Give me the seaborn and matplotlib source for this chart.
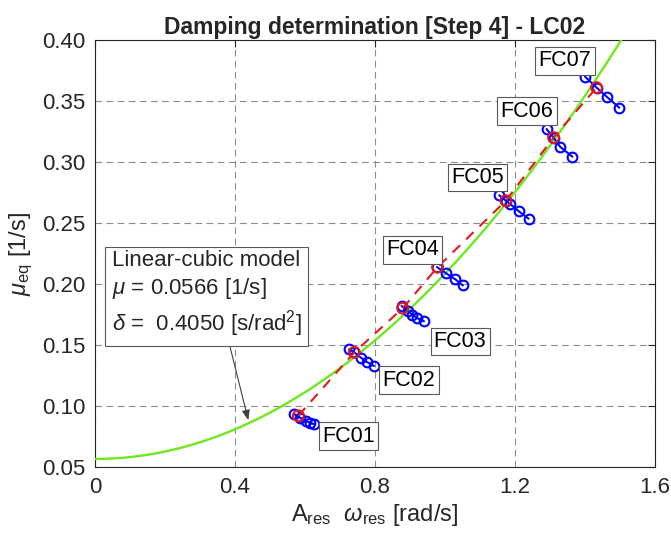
import numpy as np
import pandas as pd
import matplotlib
matplotlib.use("Agg")
import matplotlib.pyplot as plt
import seaborn as sns

fc_names = ["FC01", "FC02", "FC03", "FC04", "FC05", "FC06", "FC07"]
fc_x = [
    [0.569, 0.585, 0.602, 0.614, 0.627],
    [0.726, 0.741, 0.760, 0.776, 0.797],
    [0.876, 0.893, 0.906, 0.921, 0.940],
    [0.977, 1.003, 1.029, 1.051],
    [1.155, 1.174, 1.186, 1.210, 1.239],
    [1.290, 1.310, 1.329, 1.364],
    [1.400, 1.433, 1.462, 1.498],
]
fc_y = [
    [0.0934, 0.0905, 0.0880, 0.0863, 0.0850],
    [0.1465, 0.1440, 0.1396, 0.1363, 0.1328],
    [0.1820, 0.1780, 0.1750, 0.1720, 0.1695],
    [0.2139, 0.2088, 0.2039, 0.1988],
    [0.2727, 0.2683, 0.2656, 0.2598, 0.2535],
    [0.3270, 0.3200, 0.3125, 0.3043],
    [0.3700, 0.3610, 0.3535, 0.3445],
]

# resonance points (red)
res_x = [0.581, 0.741, 0.879, 0.979, 1.174, 1.310, 1.433]
res_y = [0.0920, 0.1440, 0.1801, 0.2139, 0.2683, 0.3200, 0.3610]

# label positions (centre of each box)
label_x = [0.724, 0.897, 1.043, 0.907, 1.093, 1.234, 1.343]
label_y = [0.0754, 0.1213, 0.1529, 0.2279, 0.2873, 0.3418, 0.3828]

# fitted linear-cubic model
mu = 0.0566
delta = 0.4050
model_x = np.linspace(0, 1.5035, 200)
model_y = mu + 3.0 / 8.0 * delta * model_x ** 2

sns.set_theme(style="white")
plt.rcParams["font.family"] = ["Liberation Sans", "DejaVu Sans"]
plt.rcParams["mathtext.fontset"] = "custom"
plt.rcParams["mathtext.rm"] = "Liberation Sans"
plt.rcParams["mathtext.it"] = "Liberation Sans:italic"
plt.rcParams["mathtext.bf"] = "Liberation Sans:bold"

dark = "#262626"

fig = plt.figure(figsize=(6.71, 5.38), dpi=100)
ax = fig.add_axes([95 / 671, 1 - 467 / 538, 560 / 671, 427 / 538])

rows = []
for name, xs, ys in zip(fc_names, fc_x, fc_y):
    for x, y in zip(xs, ys):
        rows.append({"case": name, "x": x, "y": y})
df = pd.DataFrame(rows)

sns.lineplot(x=model_x, y=model_y, color="#6ee81e", lw=1.7, ax=ax, zorder=3)
sns.lineplot(data=df, x="x", y="y", units="case", estimator=None, sort=False,
             color="blue", lw=1.5, marker="o", markersize=7,
             markerfacecolor="none", markeredgecolor="blue", markeredgewidth=1.5,
             ax=ax, zorder=4)
sns.lineplot(x=res_x, y=res_y, sort=False, color="#e41a1c", lw=1.5,
             dashes=False, ax=ax, zorder=5, linestyle=(0, (5, 4)))
sns.scatterplot(x=res_x, y=res_y, s=60, facecolor="none", edgecolor="#e41a1c",
                linewidth=1.5, ax=ax, zorder=6)

for name, lx, ly in zip(fc_names, label_x, label_y):
    ax.text(lx, ly, name, ha="center", va="center", fontsize=15.5, color="black",
            zorder=7,
            bbox=dict(boxstyle="square,pad=0.15", fc="white", ec="0.35", lw=0.8))

box_text = ("Linear-cubic model\n"
            r"$\mu$ = 0.0566 [1/s]" "\n"
            r"$\delta$ =  0.4050 [s/rad$^2$]")
ax.text(0.048, 0.228, box_text, ha="left", va="top", fontsize=16,
        linespacing=1.3, zorder=7,
        bbox=dict(boxstyle="square,pad=0.3", fc="white", ec="0.35", lw=0.8))
ax.annotate("", xy=(0.44, 0.0862), xytext=(0.381, 0.154),
            arrowprops=dict(arrowstyle="-|>,head_length=0.5,head_width=0.2",
                            color="0.25", lw=0.8), zorder=6)

ax.set_xlim(0, 1.6)
ax.set_ylim(0.05, 0.40)
ax.set_xticks([0, 0.4, 0.8, 1.2, 1.6])
ax.set_xticklabels(["0", "0.4", "0.8", "1.2", "1.6"])
ax.set_yticks(np.arange(0.05, 0.401, 0.05))
ax.set_yticklabels([f"{v:.2f}" for v in np.arange(0.05, 0.401, 0.05)])
ax.grid(True, linestyle=(0, (6, 4)), color="0.55", lw=0.8)
ax.set_axisbelow(True)
for s in ax.spines.values():
    s.set_color(dark)
    s.set_linewidth(0.8)
ax.tick_params(direction="in", length=5, width=0.8, colors=dark,
               labelsize=16, top=True, right=True, pad=7)

ax.set_title("Damping determination [Step 4] - LC02", fontsize=16.5,
             fontweight="bold", pad=4)
ax.set_xlabel(r"A$_{\mathrm{res}}$  $\omega_{\mathrm{res}}$ [rad/s]",
              fontsize=17, color=dark, labelpad=3)
ax.set_ylabel(r"$\mu_{\mathrm{eq}}$ [1/s]", fontsize=17, color=dark,
              labelpad=5)

fig.savefig("out.png", dpi=100)
